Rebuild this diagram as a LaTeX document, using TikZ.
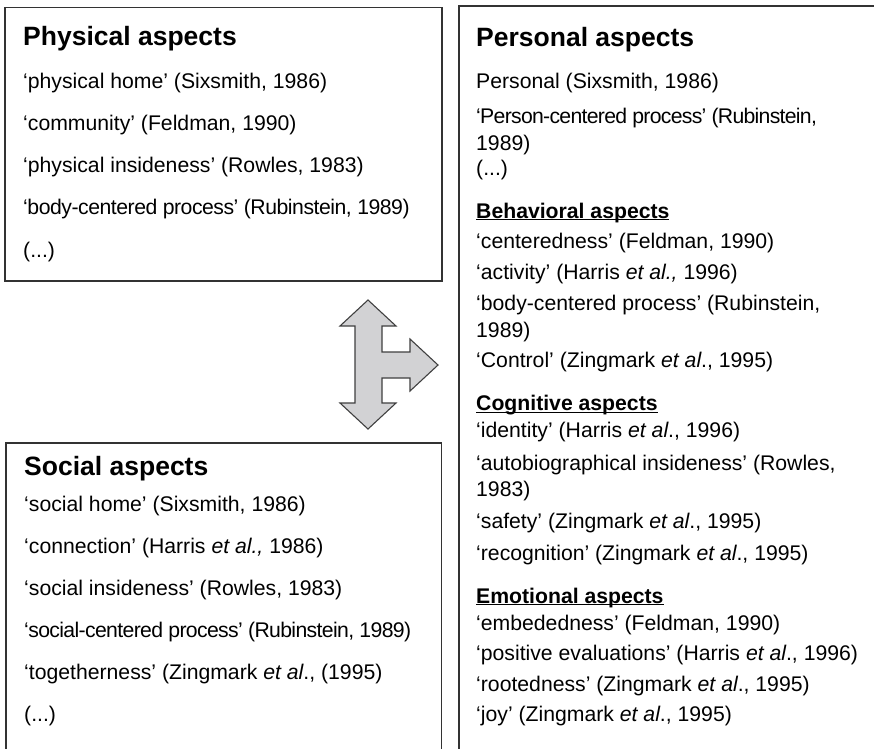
\documentclass[tikz,border=0pt]{standalone}
\usepackage{fontspec}
\setmainfont{Liberation Sans}
\newcommand\myul[1]{\setbox0\hbox{#1}\rlap{\rule[-2.2pt]{\wd0}{1.3pt}}\box0}
\newcommand\ital[1]{\textit{#1}}
\newcommand\tighten[2]{{\addfontfeature{LetterSpace=#1}#2}}
\definecolor{boxline}{HTML}{333333}
\definecolor{arrowfill}{HTML}{D2D2D4}
\definecolor{arrowline}{HTML}{404040}
\begin{document}
\begin{tikzpicture}[x=1pt,y=-1pt,
  panel/.style={draw=boxline,line width=1.3pt},
  ttl/.style={anchor=base west,inner sep=0pt,font=\fontsize{26.5}{30}\selectfont\bfseries},
  txt/.style={anchor=base west,inner sep=0pt,font=\fontsize{21.2}{25}\selectfont},
  sub/.style={anchor=base west,inner sep=0pt,font=\fontsize{21.2}{25}\selectfont\bfseries}]
\useasboundingbox (0,0) rectangle (874,748);
\clip (0,0) rectangle (874,748);
\fill[white] (0,0) rectangle (874,748);
% boxes
\draw[panel] (5,7.3) rectangle (442,281);
\draw[panel] (459,6) rectangle (900,770);
\draw[panel] (6,443) rectangle (441.5,770);
% Physical
\node[ttl] (phT) at (23,45) {Physical aspects};
\node[txt] (ph1) at (23,88.3) {‘physical home’ (Sixsmith, 1986)};
\node[txt] (ph2) at (23,130.5) {‘community’ (Feldman, 1990)};
\node[txt] (ph3) at (23,172.7) {‘physical insideness’ (Rowles, 1983)};
\node[txt] (ph4) at (23,214.9) {\tighten{-2.2}{‘body-centered process’ (Rubinstein, 1989)}};
\node[txt] (ph5) at (23,257.1) {(...)};
% Social
\node[ttl] (soT) at (24,475) {Social aspects};
\node[txt] (so1) at (24,511.2) {‘social home’ (Sixsmith, 1986)};
\node[txt] (so2) at (24,553.3) {‘connection’ (Harris \ital{et al.,} 1986)};
\node[txt] (so3) at (24,595.4) {‘social insideness’ (Rowles, 1983)};
\node[txt] (so4) at (24,637.5) {\tighten{-3.0}{‘social-centered process’ (Rubinstein, 1989)}};
\node[txt] (so5) at (24,679.6) {‘togetherness’ (Zingmark \ital{et al}., (1995)};
\node[txt] (so6) at (24,721.7) {(...)};
% Personal
\node[ttl] (peT) at (476,46.7) {Personal aspects};
\node[txt] (pe1) at (476,88.3) {Personal (Sixsmith, 1986)};
\node[txt] (pe2) at (476,123.3) {\tighten{-3.3}{‘Person-centered process’ (Rubinstein,}};
\node[txt] (pe3) at (476,150.7) {1989)};
\node[txt] (pe4) at (476,175.5) {(...)};
\node[sub] (beT) at (476,218) {\myul{Behavioral aspects}};
\node[txt] (be1) at (476,248) {‘centeredness’ (Feldman, 1990)};
\node[txt] (be2) at (476,279) {‘activity’ (Harris \ital{et al.,} 1996)};
\node[txt] (be3) at (476,310) {‘body-centered process’ (Rubinstein,};
\node[txt] (be4) at (476,337) {1989)};
\node[txt] (be5) at (476,367) {‘Control’ (Zingmark \ital{et al}., 1995)};
\node[sub] (coT) at (476,410.7) {\myul{Cognitive aspects}};
\node[txt] (co1) at (476,437.3) {‘identity’ (Harris \ital{et al}., 1996)};
\node[txt] (co2) at (476,470) {‘autobiographical insideness’ (Rowles,};
\node[txt] (co3) at (476,496.7) {1983)};
\node[txt] (co4) at (476,528) {‘safety’ (Zingmark \ital{et al}., 1995)};
\node[txt] (co5) at (476,560) {‘recognition’ (Zingmark \ital{et al}., 1995)};
\node[sub] (emT) at (476,603) {\myul{Emotional aspects}};
\node[txt] (em1) at (476,630) {‘embededness’ (Feldman, 1990)};
\node[txt] (em2) at (476,660) {‘positive evaluations’ (Harris \ital{et al}., 1996)};
\node[txt] (em3) at (476,691.7) {‘rootedness’ (Zingmark \ital{et al}., 1995)};
\node[txt] (em4) at (476,721.7) {‘joy’ (Zingmark \ital{et al}., 1995)};
% three-way arrow
\draw[fill=arrowfill,draw=arrowline,line width=1.1pt,line join=miter]
  (368,300) -- (396,326) -- (382,326) -- (382,352) -- (410,352) -- (410,339)
  -- (438,365) -- (410,391) -- (410,378) -- (382,378) -- (382,403)
  -- (396,403) -- (368,429) -- (340,403) -- (355,403) -- (355,326)
  -- (340,326) -- cycle;
\end{tikzpicture}
\end{document}
